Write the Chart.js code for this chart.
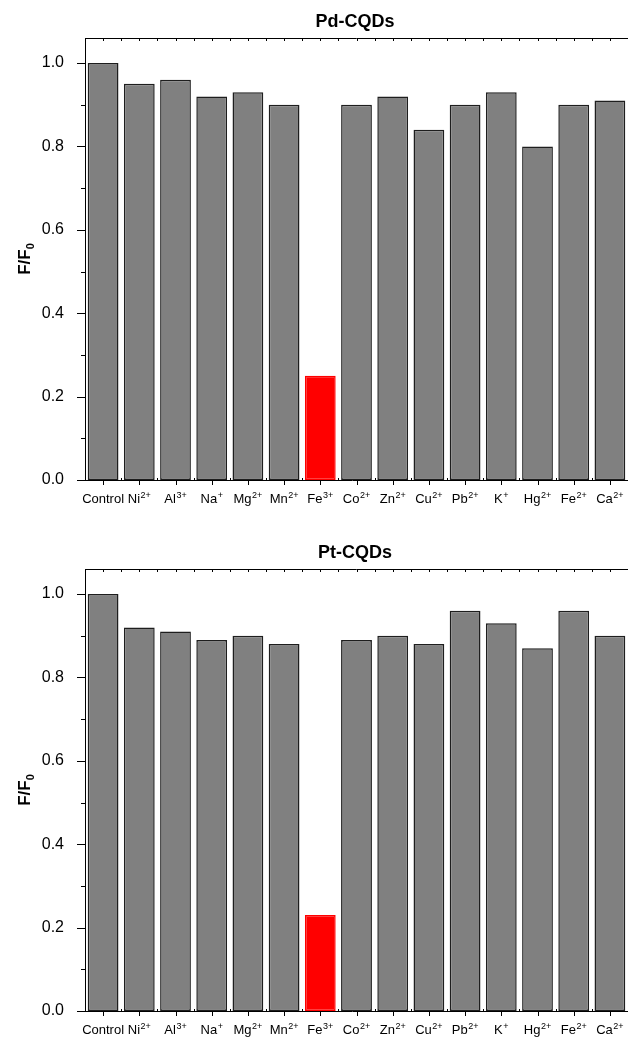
<!DOCTYPE html>
<html>
<head>
<meta charset="utf-8">
<script src="https://cdn.jsdelivr.net/npm/chart.js@4"></script>
<style>
  html, body { margin: 0; padding: 0; background: #fff; overflow: hidden; width: 628px; height: 1038px; }
  .wrap { position: absolute; left: 0; }
  canvas { display: block; }
</style>
</head>
<body>
<div class="wrap" style="top:0px"><canvas id="c1" width="628" height="519"></canvas></div>
<div class="wrap" style="top:531px"><canvas id="c2" width="628" height="507"></canvas></div>
<script>
// ---- data ----
const ions = ['Control','Ni','Al','Na','Mg','Mn','Fe','Co','Zn','Cu','Pb','K','Hg','Fe','Ca'];
const charges = ['', '2+', '3+', '+', '2+', '2+', '3+', '2+', '2+', '2+', '2+', '+', '2+', '2+', '2+'];
const pdValues = [1.00, 0.95, 0.96, 0.92, 0.93, 0.90, 0.25, 0.90, 0.92, 0.84, 0.90, 0.93, 0.80, 0.90, 0.91];
const ptValues = [1.00, 0.92, 0.91, 0.89, 0.90, 0.88, 0.23, 0.89, 0.90, 0.88, 0.96, 0.93, 0.87, 0.96, 0.90];
const yTickValues = [0.0, 0.2, 0.4, 0.6, 0.8, 1.0];
const highlightIndex = 6;
const titles = ['Pd-CQDs', 'Pt-CQDs'];

const FONT = '"Liberation Sans", Arial, sans-serif';
const labels = ions.map((b, i) => b + charges[i]);

const decor = {
  id: 'decor',
  afterDraw(chart, args, opts) {
    const ctx = chart.ctx;
    const a = chart.chartArea;
    const xs = chart.scales.x, ys = chart.scales.y;
    ctx.save();
    ctx.strokeStyle = '#000';
    ctx.lineWidth = 1;
    // frame
    ctx.beginPath();
    ctx.moveTo(a.left + 0.5, a.top + 0.5); ctx.lineTo(a.left + 0.5, a.bottom + 0.5);
    ctx.moveTo(a.left - 8, a.bottom + 0.5); ctx.lineTo(a.right, a.bottom + 0.5);
    ctx.moveTo(a.left, a.top + 0.5); ctx.lineTo(a.right, a.top + 0.5);
    ctx.stroke();
    // y ticks major/minor
    ctx.beginPath();
    for (let k = 0; k <= 10; k++) {
      const py = Math.round(ys.getPixelForValue(k / 10)) + 0.5;
      const len = (k % 2 === 0) ? 8 : 4;
      ctx.moveTo(a.left - len, py); ctx.lineTo(a.left, py);
    }
    // x ticks
    const n = ions.length;
    for (let i = 0; i < n; i++) {
      const c = Math.round(xs.getPixelForValue(i)) + 0.5;
      ctx.moveTo(c, a.bottom); ctx.lineTo(c, a.bottom + 5);
      ctx.moveTo(c, a.top); ctx.lineTo(c, a.top + 3);
      if (i < n - 1) {
        const b = Math.round((xs.getPixelForValue(i) + xs.getPixelForValue(i + 1)) / 2) + 0.5;
        ctx.moveTo(b, a.top); ctx.lineTo(b, a.top + 3);
        ctx.moveTo(b, a.bottom); ctx.lineTo(b, a.bottom - 2);
      }
    }
    ctx.stroke();
    // x labels with superscripts
    ctx.fillStyle = '#000';
    ctx.textBaseline = 'alphabetic';
    ctx.textAlign = 'left';
    for (let i = 0; i < n; i++) {
      ctx.font = '13px ' + FONT;
      const w1 = ctx.measureText(ions[i]).width;
      ctx.font = '9px ' + FONT;
      const w2 = charges[i] ? ctx.measureText(charges[i]).width + 0.5 : 0;
      const cx = xs.getPixelForValue(i);
      const x0 = cx - (w1 + w2) / 2;
      const base = a.bottom + 23;
      ctx.font = '13px ' + FONT;
      ctx.fillText(ions[i], x0, base);
      if (charges[i]) {
        ctx.font = '9px ' + FONT;
        ctx.fillText(charges[i], x0 + w1 + 0.5, base - 5);
      }
    }
    // title
    ctx.font = 'bold 18px ' + FONT;
    ctx.textAlign = 'center';
    ctx.textBaseline = 'middle';
    ctx.fillText(opts.title, 355, 22);
    // y title F/F0
    ctx.translate(24, (a.top + a.bottom) / 2);
    ctx.rotate(-Math.PI / 2);
    ctx.font = 'bold 17px ' + FONT;
    const wm = ctx.measureText('F/F').width;
    ctx.font = 'bold 11px ' + FONT;
    const ws = ctx.measureText('0').width;
    ctx.textAlign = 'left';
    ctx.textBaseline = 'alphabetic';
    const sx = -(wm + ws) / 2;
    ctx.font = 'bold 17px ' + FONT;
    ctx.fillText('F/F', sx, 6);
    ctx.font = 'bold 11px ' + FONT;
    ctx.fillText('0', sx + wm, 10);
    ctx.restore();
  }
};

function makeChart(id, values, title) {
  const canvas = document.getElementById(id);
  const H = canvas.height;
  return new Chart(canvas, {
    type: 'bar',
    data: {
      labels: labels,
      datasets: [{
        data: values,
        backgroundColor: values.map((v, i) => i === highlightIndex ? '#ff0000' : '#808080'),
        borderColor: values.map((v, i) => i === highlightIndex ? '#ff0000' : '#1e1e1e'),
        borderWidth: 1.5,
        borderSkipped: false,
        barPercentage: 0.85,
        categoryPercentage: 1.0
      }]
    },
    options: {
      responsive: false,
      animation: false,
      devicePixelRatio: 1,
      layout: { padding: { top: 38, left: 0, right: 0, bottom: 0 } },
      plugins: {
        legend: { display: false },
        tooltip: { enabled: false },
        title: { display: false },
        decor: { title: title }
      },
      scales: {
        x: {
          grid: { display: false },
          border: { display: false },
          ticks: { display: false },
          afterFit(scale) { scale.height = H - 480; }
        },
        y: {
          min: 0, max: 1.06,
          grid: { display: false },
          border: { display: false },
          afterBuildTicks(scale) {
            scale.ticks = yTickValues.map(v => ({ value: v }));
          },
          ticks: {
            padding: 13,
            color: '#000',
            font: { family: FONT, size: 16 },
            callback: v => Number(v).toFixed(1)
          },
          afterFit(scale) { scale.width = 85; }
        }
      }
    },
    plugins: [decor]
  });
}

makeChart('c1', pdValues, titles[0]);
makeChart('c2', ptValues, titles[1]);
</script>
</body>
</html>
